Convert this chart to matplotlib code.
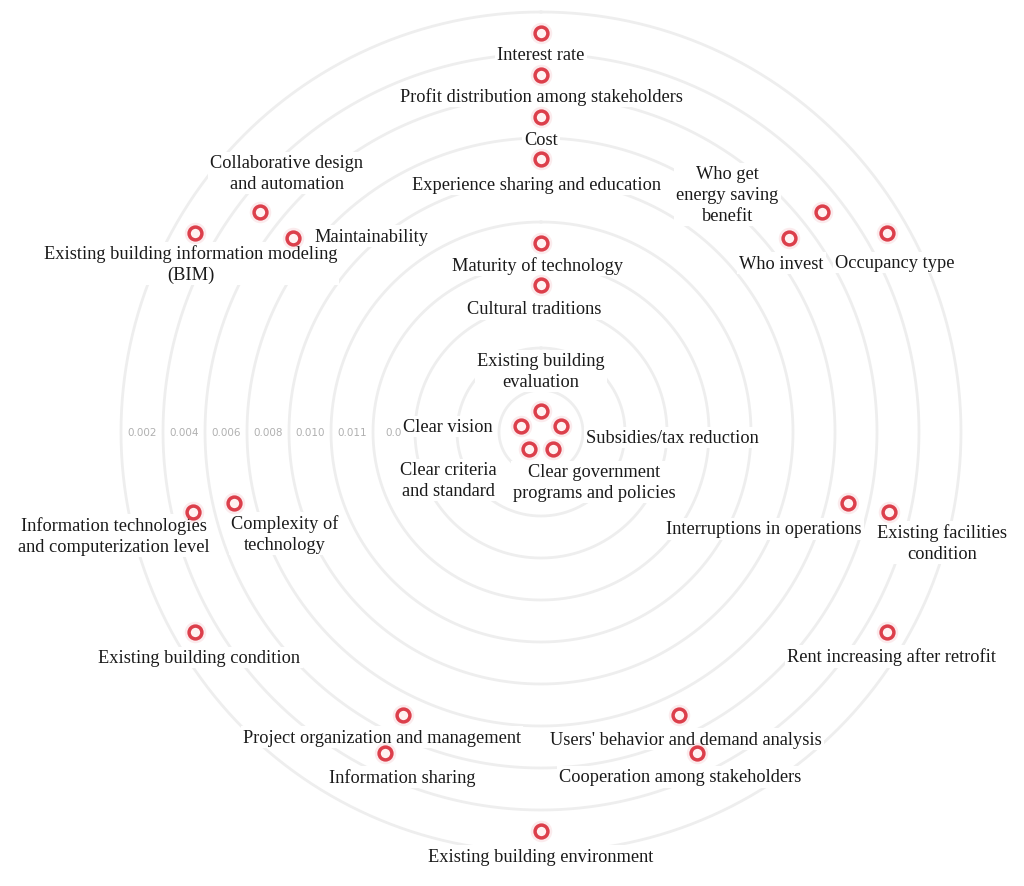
import numpy as np
import matplotlib
matplotlib.use("Agg")
import matplotlib.pyplot as plt

# ---------------- data ----------------
factors = [
    "Interest rate",
    "Profit distribution among stakeholders",
    "Cost",
    "Experience sharing and education",
    "Maturity of technology",
    "Cultural traditions",
    "Existing building\nevaluation",
    "Subsidies/tax reduction",
    "Clear government\nprograms and policies",
    "Clear criteria\nand standard",
    "Clear vision",
    "Collaborative design\nand automation",
    "Maintainability",
    "Existing building information modeling\n(BIM)",
    "Who get\nenergy saving\nbenefit",
    "Who invest",
    "Occupancy type",
    "Interruptions in operations",
    "Existing facilities\ncondition",
    "Rent increasing after retrofit",
    "Users' behavior and demand analysis",
    "Cooperation among stakeholders",
    "Existing building environment",
    "Project organization and management",
    "Information sharing",
    "Existing building condition",
    "Information technologies\nand computerization level",
    "Complexity of\ntechnology",
]
# ring band (0 = centre) in which each factor sits
band = [9, 8, 7, 6, 4, 3, 0, 0, 0, 0, 0,
        8, 7, 9, 8, 7, 9, 7, 8, 9, 7, 8, 9, 7, 8, 9, 8, 7]
# angular position, degrees clockwise from top
angle_deg = [0, 0, 0, 0, 0, 0, 0, 72, 144, 216, 288,
             308, 308, 300, 52, 52, 60, 103, 103, 120, 154, 154,
             180, 206, 206, 240, 257, 257]

band_labels = ["0.002", "0.004", "0.006", "0.008", "0.010", "0.011", "0.0"]
band_label_pos = [9, 8, 7, 6, 5, 4, 3]

# label layout: offset in pixels from point, horizontal alignment
label_style = [
    ((0, -21), "center"), ((0, -21), "center"), ((0, -22), "center"),
    ((-4, -25), "center"), ((-3, -22), "center"), ((-7, -24), "center"),
    ((0, 40), "center"), ((25, -12), "left"), ((41, -33), "center"),
    ((-80, -31), "center"), ((-28, -1), "right"),
    ((27, 39), "center"), ((22, 2), "left"), ((-5, -31), "center"),
    ((-95, 18), "center"), ((-8, -25), "center"), ((8, -30), "center"),
    ((-84, -26), "center"), ((53, -30), "center"), ((5, -25), "center"),
    ((7, -24), "center"), ((-17, -24), "center"), ((0, -25), "center"),
    ((-21, -22), "center"), ((18, -24), "center"), ((4, -26), "center"),
    ((-79, -23), "center"), ((51, -31), "center"),
]

# ---------------- figure ----------------
W, H, DPI = 1024, 887, 100
fig = plt.figure(figsize=(W / DPI, H / DPI), dpi=DPI)
fig.patch.set_facecolor("white")

cx, cy = 541, 887 - 433          # centre in pixels (from bottom)
unit = 42.0                      # pixels per band
rmax = 10.6
Rpx = rmax * unit
ax = fig.add_axes([(cx - Rpx) / W, (cy - Rpx) / H, 2 * Rpx / W, 2 * Rpx / H],
                  projection="polar")
ax.set_theta_zero_location("N")
ax.set_theta_direction(-1)
ax.set_ylim(0, rmax)
ax.axis("off")

# rings
th = np.linspace(0, 2 * np.pi, 721)
for k in range(1, 11):
    ax.plot(th, np.full_like(th, k), color="#eeeeee", lw=2.0, zorder=1)

# band value labels along the left horizontal
for lab, b in zip(band_labels, band_label_pos):
    ax.text(np.deg2rad(270), b + 0.5, lab, ha="center", va="center",
            fontsize=7.5, color="#b0b0b0", zorder=2)

theta = np.deg2rad(angle_deg)
r = np.array(band) + 0.5

# markers: glow + ring
ax.scatter(theta, r, s=240, color="#e04050", alpha=0.10, lw=0, zorder=4)
ax.scatter(theta, r, s=85, facecolor="#fff2f2", edgecolor="#dc3f4b",
           linewidth=2.5, zorder=5)

n = len(factors)
for i, (name, t, rr, (off, ha)) in enumerate(zip(factors, theta, r, label_style)):
    ax.annotate(name, xy=(t, rr), xytext=off, textcoords="offset pixels",
                ha=ha, va="center", multialignment="center",
                fontsize=13.2, family="Liberation Serif", color="#1a1a1a",
                linespacing=1.3, zorder=3 + 0.01 * (n - i),
                bbox=dict(boxstyle="square,pad=0.12", fc="white", ec="none"))

fig.savefig("out.png", dpi=DPI, facecolor="white")
